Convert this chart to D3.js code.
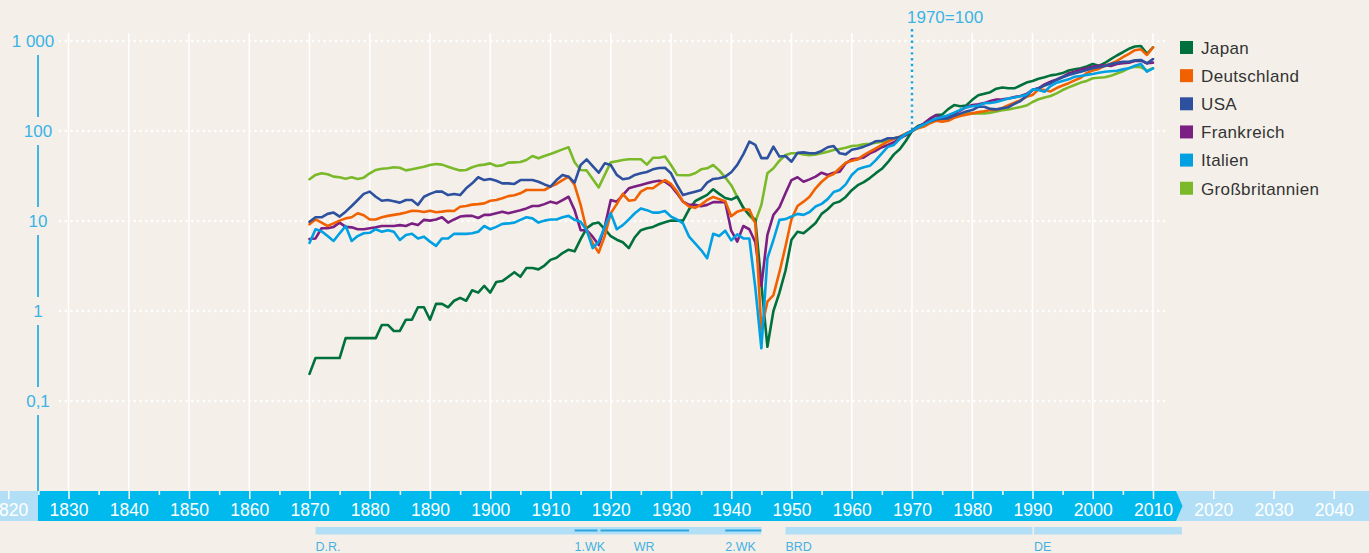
<!DOCTYPE html>
<html>
<head>
<meta charset="utf-8">
<script src="https://cdn.jsdelivr.net/npm/d3@7/dist/d3.min.js"></script>
<style>
  html, body { margin: 0; padding: 0; background: #f4f0e9; }
  svg { display: block; font-family: "Liberation Sans", Arial, sans-serif; }
</style>
</head>
<body>
<svg id="chart" width="1369" height="553"></svg>
<script>
// Index 1970 = 100, log scale, annual values 1870-2010
var years = d3.range(1870, 2011);

var japan = [
  0.2, 0.3, 0.3, 0.3, 0.3, 0.3, 0.5, 0.5, 0.5, 0.5,
  0.5, 0.5, 0.7, 0.7, 0.6, 0.6, 0.8, 0.8, 1.1, 1.1,
  0.8, 1.2, 1.2, 1.1, 1.3, 1.4, 1.3, 1.7, 1.6, 1.9,
  1.6, 2.1, 2.15, 2.4, 2.7, 2.4, 3.0, 3.0, 2.9, 3.2,
  3.7, 3.9, 4.4, 4.8, 4.6, 6.3, 8.3, 9.3, 9.6, 8.1,
  6.8, 6.2, 5.8, 5.0, 6.6, 7.9, 8.3, 8.6, 9.2, 9.7,
  10.1, 10.1, 10.1, 13.5, 16.6, 18, 19.5, 22.5, 20, 18,
  17.3, 18.6, 14, 11.7, 10.3, 2.0, 0.4, 1.0, 1.6, 2.8,
  6.2, 7.6, 7.3, 8.3, 9.5, 12, 13.5, 15.7, 16.5, 18.5,
  22, 25, 27, 30, 34, 38, 45, 55, 63, 78,
  100, 114, 120, 135, 150, 152, 175, 194, 188, 192,
  222, 250, 260, 270, 295, 305, 298, 298, 320, 345,
  360, 380, 395, 415, 425, 440, 470, 485, 497, 520,
  555, 530, 570, 630, 690, 750, 820, 870, 880, 720,
  850
];
var deutschland = [
  9.2, 10.4, 9.6, 8.8, 9.4, 10.1, 10.7, 11.0, 12.2, 11.6,
  10.4, 10.4, 11.0, 11.4, 11.7, 12.0, 12.4, 13.0, 12.9, 12.6,
  13.0, 12.5, 12.7, 13.0, 12.9, 14.4, 14.7, 15.2, 15.4, 15.7,
  16.8, 17.1, 17.9, 18.9, 19.3, 20.3, 22.1, 22.1, 22.1, 22.1,
  24.1, 25.8, 28.5, 31.1, 25.1, 15.1, 7.9, 5.65, 4.45, 6.8,
  12.2, 15.4, 20, 16.8, 17.1, 21.2, 23.1, 23.1, 25.8, 28.5,
  25.8, 21.2, 16.4, 14.5, 14, 15.2, 17.1, 18.5, 17.5, 16.6,
  11.3, 12.7, 13.3, 13.4, 9.4, 0.62, 1.27, 1.5, 2.7, 5.2,
  10.5, 14.7, 16.4, 18.6, 23.1, 27.3, 31.1, 33.3, 38.5, 44.5,
  46.8, 48.4, 54.1, 59, 64.2, 70, 76.1, 82, 86.5, 94.3,
  100, 107, 112, 122, 130, 127, 130, 140, 147, 152,
  157, 162, 166, 171, 171, 180, 193, 206, 220, 240,
  251, 290, 285, 275, 300, 320, 340, 365, 390, 440,
  470, 490, 530, 560, 600, 660, 720, 790, 808, 700,
  851
];
var usa = [
  9.8, 11.0, 11.0, 12.0, 12.4, 11.2, 12.7, 14.7, 17.1, 20.0,
  21.2, 18.6, 16.8, 17.1, 16.6, 16.0, 17.1, 17.1, 15.1, 18.6,
  20.0, 21.2, 21.2, 19.4, 20.0, 19.4, 23.1, 26.2, 30.6, 28.5,
  29.3, 28.0, 26.2, 26.2, 25.8, 28.5, 28.5, 28.5, 27.3, 25.5,
  24.1, 28.5, 32.5, 31.1, 26.7, 41.9, 48.4, 40.8, 34.4, 43.7,
  41.9, 32.5, 29.1, 29.8, 32.5, 33.9, 35, 37.5, 38.8, 39.1,
  33.9, 25.1, 19.4, 20.3, 21.2, 22.1, 26.7, 29.3, 29.8, 31.1,
  34.8, 42, 55, 76, 70, 50, 50, 67, 52, 52.7,
  45.6, 57.4, 57.9, 56.5, 56.5, 60, 66, 68, 56.5, 55,
  62, 64, 67, 71, 77, 78, 83, 83, 86, 92,
  100, 112, 120, 128, 135, 137, 138, 148, 156, 165,
  171, 186, 186, 176, 174, 179, 184, 200, 215, 245,
  285, 298, 320, 340, 369, 395, 419, 437, 456, 476,
  497, 510, 527, 555, 574, 589, 589, 610, 615, 565,
  630
];
var frankreich = [
  6.3, 6.4, 8.3, 8.3, 8.6, 9.6, 8.6, 8.5, 8.1, 8.1,
  8.3, 8.5, 8.8, 8.8, 8.8, 9.0, 8.8, 9.4, 9.0, 10.3,
  10.1, 10.4, 11.0, 9.6, 10.4, 11.2, 11.4, 11.4, 10.8, 11.7,
  11.7, 12.2, 12.7, 12.2, 12.7, 13.2, 13.8, 14.7, 14.7, 15.4,
  16.4, 15.7, 17.1, 18.6, 13.2, 7.9, 7.9, 6.7, 5.4, 8.6,
  17.1, 16.4, 19.4, 23.1, 24.1, 25.1, 26.2, 27.3, 28, 27.3,
  24.5, 20.3, 16.4, 15.1, 15.1, 14.6, 15.1, 16.2, 16.2, 16.2,
  7.8, 5.9, 8.8, 8.1, 5.8, 1.9, 7.0, 11.7, 14.2, 20.3,
  28.5, 30.6, 27.3, 29.0, 31.1, 34.4, 32.5, 34.4, 35.3, 43.7,
  48.4, 49.3, 50.9, 56.5, 60.4, 66, 70, 75, 83, 90,
  100, 110, 122, 138, 150, 140, 146, 155, 168, 184,
  194, 198, 204, 215, 224, 225, 230, 238, 245, 258,
  285, 298, 330, 353, 375, 400, 437, 456, 484, 497,
  519, 530, 541, 527, 555, 565, 574, 600, 605, 565,
  575
];
var italien = [
  5.7, 8.1, 7.7, 6.8, 6.0, 7.3, 8.8, 6.0, 6.8, 7.3,
  7.4, 8.1, 7.6, 7.9, 7.6, 6.15, 7.0, 7.2, 6.4, 6.7,
  5.9, 5.3, 6.4, 6.4, 7.2, 7.2, 7.2, 7.3, 7.6, 8.8,
  8.1, 8.6, 9.3, 9.4, 9.6, 10.3, 11.0, 10.7, 9.6, 10.1,
  10.4, 10.4, 11.0, 11.4, 10.3, 9.8, 7.9, 5.0, 5.9, 8.6,
  12.2, 8.1, 9.0, 10.4, 12.2, 13.8, 13.2, 12.4, 12.4, 12.9,
  11.2, 10.4, 9.4, 6.7, 5.65, 4.76, 3.85, 7.2, 6.8, 7.8,
  6.1, 7.1, 6.4, 6.4, 1.8, 0.385, 3.85, 6.15, 10.3, 10.5,
  11.2, 12, 11.7, 12.6, 14.5, 15.5, 17.5, 21, 22.1, 25.5,
  32.5, 37.5, 39.5, 41, 47.5, 56.5, 67, 70, 82, 93,
  100, 110, 118, 128, 138, 143, 150, 160, 172, 183,
  188, 192, 204, 205, 210, 220, 230, 236, 243, 252,
  290, 285, 273, 316, 344, 360, 375, 401, 408, 420,
  430, 444, 456, 462, 468, 484, 497, 530, 555, 456,
  497
];
var grossbritannien = [
  29.1, 32.5, 33.9, 33, 31.1, 30.6, 29.5, 30.6, 29.3, 30.3,
  33.9, 36.9, 38.1, 38.5, 39.5, 39.1, 36.5, 37.5, 38.8, 40.1,
  41.9, 43.0, 42.3, 40.1, 38.1, 36.5, 36.9, 39.5, 41.5, 42.3,
  43.7, 40.8, 41.5, 44.5, 44.8, 45.2, 47.6, 52.7, 49.7, 52.7,
  55.5, 58.9, 62.5, 65.9, 45, 36.9, 36.5, 29.3, 23.6, 32.5,
  44.8, 46.2, 47.6, 48.6, 48.6, 48.6, 42.3, 50.4, 50.4, 52.2,
  41.9, 32.5, 32.2, 32.2, 33.9, 37.5, 38.5, 41.9, 36.5, 30.5,
  25, 18.5, 14.2, 11.5, 9.8, 15.1, 33.9, 38.5, 46.8, 54.1,
  56.5, 56.5, 55, 54, 55, 56.5, 58.9, 61.5, 63, 65,
  68, 69, 71, 72, 74, 76, 79, 83, 86.5, 93,
  100, 110, 118, 126, 133, 135, 138, 146, 152, 157,
  157, 157, 157, 160, 165, 170, 174, 179, 185, 192,
  210, 225, 235, 245, 262, 285, 305, 325, 345, 360,
  385, 390, 395, 410, 435, 460, 500, 519, 512, 468,
  497
];

var seriesNames = ["Japan", "Deutschland", "USA", "Frankreich", "Italien", "Großbritannien"];
var seriesValues = [japan, deutschland, usa, frankreich, italien, grossbritannien];
var seriesColors = ["#00703c", "#f26100", "#2d509f", "#7b1f83", "#00a0e3", "#7ab929"];
var drawOrder = [5, 0, 3, 1, 2, 4];

var yTicks = [0.1, 1, 10, 100, 1000];
var yTickLabels = ["0,1", "1", "10", "100", "1 000"];
var decadeTicks = d3.range(1820, 2041, 10);
var gridYears = d3.range(1830, 2011, 10);
var minorTicks = d3.range(1825, 2010, 10);

var eraLabels = ["D.R.", "BRD", "DE"];
var eraStart = [1871, 1949, 1990.25];
var eraEnd = [1945, 1990, 2014.8];
var warLabels = ["1.WK", "WR", "2.WK"];
var warStart = [1914, 1918.3, 1939];
var warEnd = [1917.8, 1933, 1945];

var svg = d3.select("#chart");
var W = 1369, H = 553;
var bandTop = 491, bandBottom = 521;

var x = d3.scaleLinear().domain([1870, 2010]).range([309.5, 1153]);
var y = d3.scaleLog().domain([0.1, 1000]).range([401, 41]);

svg.append("rect").attr("width", W).attr("height", H).attr("fill", "#f4f0e9");

// vertical white grid
svg.append("g").selectAll("line").data(gridYears).enter().append("line")
  .attr("x1", function(d){ return x(d); }).attr("x2", function(d){ return x(d); })
  .attr("y1", 33).attr("y2", bandTop)
  .attr("stroke", "#ffffff").attr("stroke-width", 1.5);

// dotted horizontal grid
svg.append("g").selectAll("line").data(yTicks).enter().append("line")
  .attr("x1", 60).attr("x2", 1166)
  .attr("y1", function(d){ return y(d); }).attr("y2", function(d){ return y(d); })
  .attr("stroke", "#ffffff").attr("stroke-width", 2.6)
  .attr("stroke-linecap", "round").attr("stroke-dasharray", "0 5.75");

// y axis line, broken around labels
var axisSegs = [];
for (var i = yTicks.length - 1; i > 0; i--) {
  axisSegs.push([y(yTicks[i]) + 14, y(yTicks[i - 1]) - 14]);
}
axisSegs.push([y(0.1) + 14, bandTop]);
svg.append("g").selectAll("line").data(axisSegs).enter().append("line")
  .attr("x1", 38).attr("x2", 38)
  .attr("y1", function(d){ return d[0]; }).attr("y2", function(d){ return d[1]; })
  .attr("stroke", "#12a8e3").attr("stroke-width", 1.6);

svg.append("g").selectAll("text").data(yTicks).enter().append("text")
  .attr("x", function(d){ return d === 1000 ? 33 : 38; })
  .attr("y", function(d){ return y(d) + 6; })
  .attr("text-anchor", "middle")
  .attr("font-size", 17)
  .attr("fill", "#3bb3e6")
  .text(function(d, i){ return yTickLabels[i]; });

// 1970 = 100 marker
svg.append("line")
  .attr("x1", x(1970)).attr("x2", x(1970))
  .attr("y1", 29).attr("y2", y(100))
  .attr("stroke", "#1aa5e3").attr("stroke-width", 2.4)
  .attr("stroke-dasharray", "2.4 3.4");
svg.append("text")
  .attr("x", x(1970) - 5).attr("y", 22.5)
  .attr("font-size", 17).attr("fill", "#3bb3e6")
  .text("1970=100");

// time band
svg.append("rect").attr("x", 0).attr("y", bandTop).attr("width", W)
  .attr("height", bandBottom - bandTop).attr("fill", "#b2dff6");
var arrowX = 1176, tipX = 1182.5;
svg.append("path")
  .attr("d", "M38," + bandTop + "H" + arrowX + "L" + tipX + "," + ((bandTop + bandBottom) / 2) +
        "L" + arrowX + "," + bandBottom + "H38Z")
  .attr("fill", "#00b9ed");

var majorAxis = d3.axisBottom(x).tickValues(decadeTicks)
  .tickSize(8).tickPadding(5).tickFormat(d3.format("d"));
var gMajor = svg.append("g").attr("transform", "translate(0," + bandTop + ")").call(majorAxis);
gMajor.select(".domain").remove();
gMajor.selectAll("line").attr("stroke", "#ffffff").attr("stroke-width", 1.5);
gMajor.selectAll("text").attr("fill", "#ffffff").attr("font-size", 17.5)
  .attr("font-family", "Liberation Sans, Arial, sans-serif");

var minorAxis = d3.axisBottom(x).tickValues(minorTicks).tickSize(4).tickFormat("");
var gMinor = svg.append("g").attr("transform", "translate(0," + bandTop + ")").call(minorAxis);
gMinor.select(".domain").remove();
gMinor.selectAll("line").attr("stroke", "#ffffff").attr("stroke-width", 1.5);

// period bars
var barY = 527, barH = 7.5;
svg.append("g").selectAll("rect").data(eraLabels).enter().append("rect")
  .attr("x", function(d, i){ return x(eraStart[i]); })
  .attr("width", function(d, i){ return x(eraEnd[i]) - x(eraStart[i]); })
  .attr("y", barY).attr("height", barH).attr("fill", "#b2dff6");
svg.append("g").selectAll("rect").data(warLabels).enter().append("rect")
  .attr("x", function(d, i){ return x(warStart[i]); })
  .attr("width", function(d, i){ return x(warEnd[i]) - x(warStart[i]); })
  .attr("y", 529.5).attr("height", 2).attr("fill", "#2ba6e2");

var periodText = svg.append("g").attr("font-size", 12.5).attr("fill", "#45b1e3");
eraLabels.forEach(function(d, i){
  periodText.append("text").attr("x", x(eraStart[i])).attr("y", 551).text(d);
});
warLabels.forEach(function(d, i){
  var mid = d === "WR";
  periodText.append("text")
    .attr("x", mid ? x(1923.8) : x(warStart[i]))
    .attr("y", 551).text(d);
});

// lines
var line = d3.line()
  .x(function(d){ return x(d[0]); })
  .y(function(d){ return y(d[1]); });

var gLines = svg.append("g").attr("fill", "none");
drawOrder.forEach(function(k){
  var pts = years.map(function(yr, j){ return [yr, seriesValues[k][j]]; });
  gLines.append("path")
    .attr("d", line(pts))
    .attr("stroke", seriesColors[k])
    .attr("stroke-width", 2.6)
    .attr("stroke-linejoin", "round")
    .attr("stroke-linecap", "round");
});

// legend
var legend = svg.append("g").attr("transform", "translate(1180,41)");
seriesNames.forEach(function(name, i){
  var row = legend.append("g").attr("transform", "translate(0," + (i * 28.15) + ")");
  row.append("rect").attr("width", 13).attr("height", 13).attr("fill", seriesColors[i]);
  row.append("text").attr("x", 21).attr("y", 12.8)
    .attr("font-size", 17).attr("letter-spacing", 0.35)
    .attr("fill", "#333333").text(name);
});
</script>
</body>
</html>
